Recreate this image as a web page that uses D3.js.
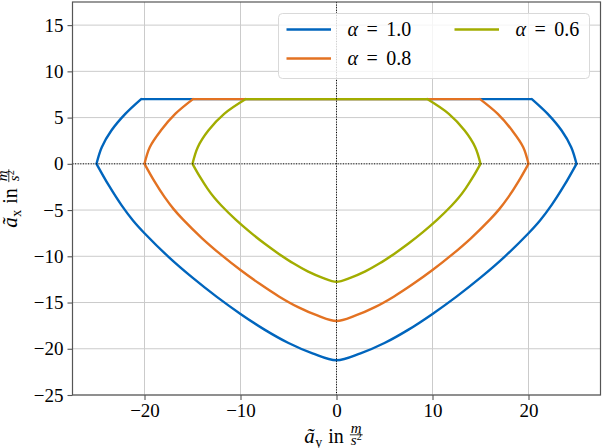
<!DOCTYPE html>
<html>
<head>
<meta charset="utf-8">
<script src="https://cdn.jsdelivr.net/npm/d3@7"></script>
<style>
    body { margin: 0; background: #fff; }
    svg { display: block; font-family: "Liberation Serif", "DejaVu Serif", serif; }
</style>
</head>
<body>
<div id="chart"></div>
<script>
// legend labels and line colours
const alphaLabels = ["1.0", "0.8", "0.6"];
const lineColors = ["#0065bd", "#e37222", "#a2ad00"];

// tick values
const xTicks = [-20, -10, 0, 10, 20];
const yTicks = [-25, -20, -15, -10, -5, 0, 5, 10, 15];

// outlines, one loop per alpha:
// top-left corner -> top-right corner -> right tip -> bottom -> left tip -> top-left corner
const ayAlpha10 = [-20.35, 20.35, 22.0, 23.45, 24.45, 25.0,
    23.7, 22.4, 21.2, 20.0, 17.5, 15.0, 12.5, 10.0, 7.5, 5.0, 2.5, 0.0,
    -2.5, -5.0, -7.5, -10.0, -12.5, -15.0, -17.5, -20.0, -21.2, -22.4, -23.7,
    -25.0, -24.45, -23.45, -22.0, -20.35];
const axAlpha10 = [7.0, 7.0, 5.4, 3.6, 1.8, 0.0,
    -2.37, -4.47, -6.13, -7.51, -10.06, -12.31, -14.36, -16.23, -17.93, -19.38, -20.5, -21.25,
    -20.5, -19.38, -17.93, -16.23, -14.36, -12.31, -10.06, -7.51, -6.13, -4.47, -2.37,
    0.0, 1.8, 3.6, 5.4, 7.0];

const ayAlpha08 = [-14.95, 14.95, 16.8, 18.3, 19.45, 20.0,
    18.96, 17.92, 16.96, 16.0, 14.0, 12.0, 10.0, 8.0, 6.0, 4.0, 2.0, 0.0,
    -2.0, -4.0, -6.0, -8.0, -10.0, -12.0, -14.0, -16.0, -16.96, -17.92, -18.96,
    -20.0, -19.45, -18.3, -16.8, -14.95];
const axAlpha08 = [7.0, 7.0, 5.4, 3.6, 1.8, 0.0,
    -1.9, -3.58, -4.9, -6.01, -8.05, -9.85, -11.49, -12.98, -14.34, -15.5, -16.4, -17.0,
    -16.4, -15.5, -14.34, -12.98, -11.49, -9.85, -8.05, -6.01, -4.9, -3.58, -1.9,
    0.0, 1.8, 3.6, 5.4, 7.0];

const ayAlpha06 = [-9.45, 9.45, 11.7, 13.35, 14.45, 15.0,
    14.22, 13.44, 12.72, 12.0, 10.5, 9.0, 7.5, 6.0, 4.5, 3.0, 1.5, 0.0,
    -1.5, -3.0, -4.5, -6.0, -7.5, -9.0, -10.5, -12.0, -12.72, -13.44, -14.22,
    -15.0, -14.45, -13.35, -11.7, -9.45];
const axAlpha06 = [7.0, 7.0, 5.4, 3.6, 1.8, 0.0,
    -1.42, -2.68, -3.68, -4.51, -6.04, -7.39, -8.62, -9.74, -10.76, -11.63, -12.3, -12.75,
    -12.3, -11.63, -10.76, -9.74, -8.62, -7.39, -6.04, -4.51, -3.68, -2.68, -1.42,
    0.0, 1.8, 3.6, 5.4, 7.0];

// indices where the outline has a kink (same for every loop)
const kinks = [0, 1, 5, 29, 33];

const series = [
    { label: alphaLabels[0], color: lineColors[0], ay: ayAlpha10, ax: axAlpha10 },
    { label: alphaLabels[1], color: lineColors[1], ay: ayAlpha08, ax: axAlpha08 },
    { label: alphaLabels[2], color: lineColors[2], ay: ayAlpha06, ax: axAlpha06 }
];

// size of the svg and the plot area
const W = 602, H = 448;
const margin = { top: 2, right: 1.5, bottom: 53, left: 72.5 };
const width = W - margin.left - margin.right;
const height = H - margin.top - margin.bottom;
const serif = "'Liberation Serif', 'DejaVu Serif', serif";

const svg = d3.select("#chart")
    .append("svg")
    .attr("width", W)
    .attr("height", H);

const g = svg.append("g")
    .attr("transform", `translate(${margin.left},${margin.top})`);

const x = d3.scaleLinear().domain([-27.5, 27.5]).range([0, width]);
const y = d3.scaleLinear().domain([-25, 17.5]).range([height, 0]);

// grid
g.append("g").selectAll("line")
    .data(xTicks)
    .join("line")
    .attr("x1", d => x(d)).attr("x2", d => x(d))
    .attr("y1", 0).attr("y2", height)
    .attr("stroke", "#cbcbcb")
    .attr("stroke-width", 1);
g.append("g").selectAll("line")
    .data(yTicks)
    .join("line")
    .attr("x1", 0).attr("x2", width)
    .attr("y1", d => y(d)).attr("y2", d => y(d))
    .attr("stroke", "#cbcbcb")
    .attr("stroke-width", 1);

// curves, drawn piece by piece so the kinks stay sharp
const line = d3.line()
    .x(d => x(d[0]))
    .y(d => y(d[1]))
    .curve(d3.curveCatmullRom.alpha(0.5));

series.forEach(s => {
    const pts = s.ay.map((v, i) => [v, s.ax[i]]);
    let d = "";
    for (let k = 0; k < kinks.length - 1; k++) {
        d += line(pts.slice(kinks[k], kinks[k + 1] + 1));
    }
    g.append("path")
        .attr("d", d)
        .attr("fill", "none")
        .attr("stroke", s.color)
        .attr("stroke-width", 2.4)
        .attr("stroke-linejoin", "round")
        .attr("stroke-linecap", "round");
});

// dotted zero lines
g.append("line")
    .attr("x1", 0).attr("x2", width)
    .attr("y1", y(0)).attr("y2", y(0))
    .attr("stroke", "#000")
    .attr("stroke-width", 1)
    .attr("stroke-dasharray", "1,1.6");
g.append("line")
    .attr("x1", x(0)).attr("x2", x(0))
    .attr("y1", 0).attr("y2", height)
    .attr("stroke", "#000")
    .attr("stroke-width", 1)
    .attr("stroke-dasharray", "1,1.6");

// axes
const xAxis = g.append("g")
    .attr("transform", `translate(0,${height})`)
    .call(d3.axisBottom(x).tickValues(xTicks).tickSize(5).tickPadding(4).tickFormat(d3.format("d")));
const yAxis = g.append("g")
    .call(d3.axisLeft(y).tickValues(yTicks).tickSize(5).tickPadding(4).tickFormat(d3.format("d")));

[xAxis, yAxis].forEach(a => {
    a.attr("font-family", serif).attr("font-size", 19);
    a.select(".domain").remove();
    a.selectAll(".tick line").attr("stroke", "#555").attr("stroke-width", 1.1);
    a.selectAll(".tick text")
        .attr("fill", "#000")
        .style("font-family", serif)
        .style("font-size", "19px");
});

// frame
g.append("rect")
    .attr("width", width)
    .attr("height", height)
    .attr("fill", "none")
    .attr("stroke", "#555")
    .attr("stroke-width", 1.2);

// legend
const legend = svg.append("g").attr("transform", "translate(278.5,13.5)");
legend.append("rect")
    .attr("width", 311)
    .attr("height", 65)
    .attr("rx", 4)
    .attr("fill", "#fff")
    .attr("fill-opacity", 0.8)
    .attr("stroke", "#d9d9d9")
    .attr("stroke-width", 1);

const legendPos = [[8, 16], [8, 45], [176, 16]];
series.forEach((s, i) => {
    const [lx, ly] = legendPos[i];
    legend.append("line")
        .attr("x1", lx).attr("x2", lx + 44.5)
        .attr("y1", ly).attr("y2", ly)
        .attr("stroke", s.color)
        .attr("stroke-width", 2.4);
    const t = legend.append("text")
        .attr("x", lx + 61)
        .attr("y", ly + 6.5)
        .style("font-family", serif)
        .style("font-size", "20px");
    t.append("tspan").style("font-style", "italic").text("α");
    t.append("tspan").attr("dx", 8.5).text("=");
    t.append("tspan").attr("dx", 8.5).text(s.label);
});

// axis label of the form  ã_sub in m/s²
function unitLabel(parent, sub) {
    const inner = parent.append("g").style("font-family", serif);
    let cx = 0;
    const a = inner.append("text").attr("x", cx).attr("y", 0)
        .style("font-size", "21px").style("font-style", "italic").text("ã");
    cx += a.node().getComputedTextLength() + 0.5;
    const s = inner.append("text").attr("x", cx).attr("y", 4)
        .style("font-size", "14px").text(sub);
    cx += s.node().getComputedTextLength() + 6;
    const w = inner.append("text").attr("x", cx).attr("y", 0)
        .style("font-size", "20px").text("in");
    cx += w.node().getComputedTextLength() + 6;
    const num = inner.append("text").attr("y", -10.5)
        .attr("text-anchor", "middle")
        .style("font-size", "15px").style("font-style", "italic").text("m");
    const den = inner.append("text").attr("y", 1.5)
        .attr("text-anchor", "middle")
        .style("font-size", "15px");
    den.append("tspan").style("font-style", "italic").text("s");
    den.append("tspan").attr("dy", -5).style("font-size", "10px").text("2");
    const fw = Math.max(num.node().getComputedTextLength(), den.node().getComputedTextLength()) + 2;
    num.attr("x", cx + fw / 2);
    den.attr("x", cx + fw / 2);
    inner.append("line")
        .attr("x1", cx).attr("x2", cx + fw)
        .attr("y1", -8.2).attr("y2", -8.2)
        .attr("stroke", "#000")
        .attr("stroke-width", 0.8);
    cx += fw;
    inner.attr("transform", `translate(${-cx / 2},0)`);
}

unitLabel(svg.append("g").attr("transform", `translate(${margin.left + width / 2 - 3},443)`), "y");
unitLabel(svg.append("g").attr("transform", `translate(17,${margin.top + height / 2}) rotate(-90)`), "x");
</script>
</body>
</html>
